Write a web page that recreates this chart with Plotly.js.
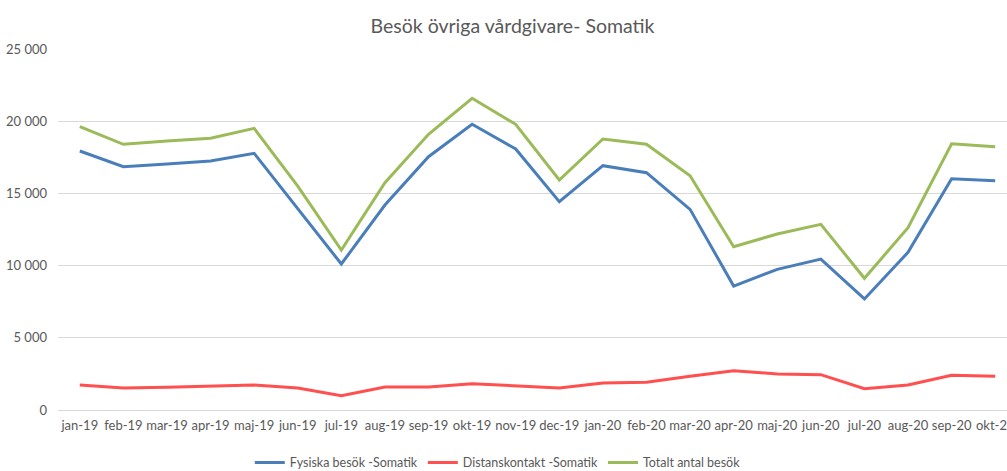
<!DOCTYPE html>
<html><head><meta charset="utf-8">
<script src="https://cdn.plot.ly/plotly-3.0.1.min.js"></script>
<style>html,body{margin:0;padding:0;overflow:hidden;background:#fff;width:1007px;height:471px}</style>
</head><body>
<div id="chart" style="width:1025px;height:471px"></div>
<script>
const months = ["jan-19","feb-19","mar-19","apr-19","maj-19","jun-19","jul-19","aug-19","sep-19","okt-19","nov-19","dec-19",
  "jan-20","feb-20","mar-20","apr-20","maj-20","jun-20","jul-20","aug-20","sep-20","okt-20"];
const fysiska = [17935,16850,17035,17245,17775,13965,10110,14195,17540,19785,18075,14425,
  16920,16435,13895,8585,9740,10455,7690,10920,16020,15880];
const distans = [1730,1525,1570,1640,1730,1525,990,1590,1590,1825,1685,1525,
  1870,1915,2330,2725,2495,2445,1475,1730,2400,2330];
const totalt = [19620,18400,18630,18815,19505,15510,11080,15740,19090,21585,19785,15930,
  18765,18400,16225,11310,12190,12860,9120,12625,18440,18235];
const yTicks = [0,5000,10000,15000,20000,25000];

const font = "Lato, 'Open Sans', sans-serif";
const traces = [
  {x: months, y: fysiska, name: "Fysiska besök -Somatik", type: "scatter", mode: "lines", line: {color: "#4a7ebb", width: 3}},
  {x: months, y: distans, name: "Distanskontakt -Somatik", type: "scatter", mode: "lines", line: {color: "#ff4f4f", width: 3}},
  {x: months, y: totalt, name: "Totalt antal besök", type: "scatter", mode: "lines", line: {color: "#9bbb59", width: 3}}
];
const layout = {
  width: 1025, height: 471,
  margin: {l: 58, r: 8, t: 49, b: 61, autoexpand: false},
  paper_bgcolor: "#fff", plot_bgcolor: "#fff",
  separators: ", ",
  font: {family: font, color: "#595959", size: 13},
  title: {text: "Besök övriga vårdgivare- Somatik", font: {family: font, size: 19.5, color: "#595959"}, x: 0.5, xanchor: "center", y: 0.945, yanchor: "middle"},
  xaxis: {type: "category", range: [-0.5, 21.5], showgrid: false, zeroline: false, showline: false, ticks: "", tickangle: 0,
    ticklabelstandoff: 6,
    tickfont: {family: font, size: 13, color: "#595959"}, fixedrange: true, automargin: false},
  yaxis: {range: [0, 25000], tickvals: yTicks, tickformat: ",d", showgrid: true, gridcolor: "#d9d9d9", gridwidth: 1,
    zeroline: true, zerolinecolor: "#d9d9d9", zerolinewidth: 1, showline: false, ticks: "", ticklabelstandoff: 10,
    tickfont: {family: font, size: 13, color: "#595959"}, fixedrange: true, automargin: false},
  showlegend: true,
  legend: {orientation: "h", x: 0.2, xanchor: "left", yref: "container", y: 0.017, yanchor: "middle",
    font: {family: font, size: 12.5, color: "#595959"}, itemwidth: 30, traceorder: "normal"},
  hovermode: false
};
Plotly.newPlot("chart", traces, layout, {displayModeBar: false, staticPlot: true});
</script>
</body></html>
